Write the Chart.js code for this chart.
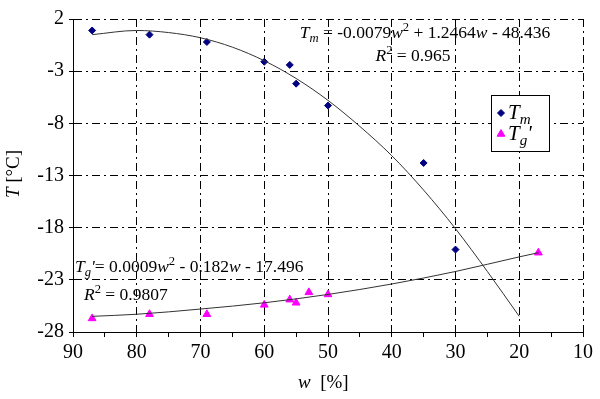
<!DOCTYPE html>
<html>
<head>
<meta charset="utf-8">
<script src="https://cdn.jsdelivr.net/npm/chart.js@4.4.1/dist/chart.umd.min.js"></script>
<style>
  html, body { margin: 0; padding: 0; background: #fff; }
  canvas { display: block; }
</style>
</head>
<body>
<canvas id="chart" width="600" height="399"></canvas>
<script>
// measured points
const tmW = [87, 78, 69, 60, 56, 55, 50, 35, 30];
const tmT = [0.9, 0.5, -0.2, -2.1, -2.4, -4.2, -6.3, -11.8, -20.1];
const tgW = [87, 78, 69, 60, 56, 55, 53, 50, 17];
const tgT = [-26.7, -26.3, -26.3, -25.4, -24.9, -25.2, -24.2, -24.4, -20.4];

// trendlines
const tmFitW = [87, 80, 75, 70, 65, 60, 55, 50, 45, 40, 35, 30, 25, 20];
const tmFitT = [0.5, 0.9, 0.7, 0.2, -0.7, -2.0, -3.7, -5.8, -8.3, -11.1, -14.4, -18.1, -22.2, -26.5];
const tgFitW = [87, 80, 70, 60, 50, 40, 30, 20, 17];
const tgFitT = [-26.5, -26.3, -25.8, -25.2, -24.4, -23.4, -22.2, -20.8, -20.4];

const xTicks = [90, 85, 80, 75, 70, 65, 60, 55, 50, 45, 40, 35, 30, 25, 20, 15, 10];
const yTicks = [2, -3, -8, -13, -18, -23, -28];

const serif = '"Liberation Serif", "Times New Roman", serif';
Chart.defaults.font.family = serif;
Chart.defaults.color = '#000';

function pairs(xs, ys) {
  return xs.map((x, i) => ({ x: x, y: ys[i] }));
}

// draw text with italic / sub / sup pieces
function drawRuns(ctx, runs, x, y, size, align) {
  const fontFor = r => (r.i ? 'italic ' : '') + ((r.sup || r.sub) ? size * 0.72 : size).toFixed(1) + 'px ' + serif;
  let total = 0;
  runs.forEach(r => { ctx.font = fontFor(r); total += ctx.measureText(r.t).width; });
  let cx = align === 'center' ? x - total / 2 : x;
  runs.forEach(r => {
    ctx.font = fontFor(r);
    const dy = r.sup ? -size * 0.4 : r.sub ? size * 0.22 : 0;
    ctx.fillText(r.t, cx, y + dy);
    cx += ctx.measureText(r.t).width;
  });
}

const tmEq = [{t: 'T', i: true}, {t: 'm', i: true, sub: true}, {t: ' = -0.0079'}, {t: 'w', i: true}, {t: '2', sup: true},
  {t: ' + 1.2464'}, {t: 'w', i: true}, {t: ' - 48.436'}];
const tmR2 = [{t: 'R', i: true}, {t: '2', sup: true}, {t: ' = 0.965'}];
const tgEq = [{t: 'T', i: true}, {t: 'g', i: true, sub: true}, {t: '\'', i: true}, {t: '= 0.0009'}, {t: 'w', i: true}, {t: '2', sup: true},
  {t: ' - 0.182'}, {t: 'w', i: true}, {t: ' - 17.496'}];
const tgR2 = [{t: 'R', i: true}, {t: '2', sup: true}, {t: ' = 0.9807'}];

const extras = {
  id: 'extras',
  afterDraw(chart) {
    const ctx = chart.ctx;
    ctx.save();
    ctx.fillStyle = '#000';
    ctx.textAlign = 'left';
    ctx.textBaseline = 'alphabetic';

    drawRuns(ctx, tmEq, 425, 38, 17.5, 'center');
    drawRuns(ctx, tmR2, 413, 61, 17.5, 'center');
    drawRuns(ctx, tgEq, 75, 272, 17.5, 'left');
    drawRuns(ctx, tgR2, 84, 300, 17.5, 'left');

    // axis titles
    drawRuns(ctx, [{t: 'w', i: true}, {t: '  [%]'}], 298, 388, 19, 'left');
    ctx.save();
    ctx.translate(19, 174);
    ctx.rotate(-Math.PI / 2);
    drawRuns(ctx, [{t: 'T', i: true}, {t: ' [\u00B0C]'}], 0, 0, 19, 'center');
    ctx.restore();

    // legend box
    ctx.fillStyle = '#fff';
    ctx.fillRect(491.5, 95.5, 58, 56);
    ctx.strokeStyle = '#000';
    ctx.lineWidth = 1;
    ctx.strokeRect(491.5, 95.5, 58, 56);

    ctx.fillStyle = '#000080';
    ctx.strokeStyle = '#000080';
    Chart.helpers.drawPoint(ctx, {pointStyle: 'rectRot', radius: 3.5, borderWidth: 1}, 501, 113);
    ctx.fillStyle = '#ff00ff';
    ctx.strokeStyle = '#ff00ff';
    Chart.helpers.drawPoint(ctx, {pointStyle: 'triangle', radius: 4.5, borderWidth: 1}, 501, 134);

    ctx.fillStyle = '#000';
    drawRuns(ctx, [{t: 'T', i: true}, {t: 'm', i: true, sub: true}], 508, 119, 21, 'left');
    drawRuns(ctx, [{t: 'T', i: true}, {t: 'g', i: true, sub: true}, {t: '\'', i: true}], 508, 140, 21, 'left');
    ctx.restore();
  }
};

new Chart(document.getElementById('chart'), {
  type: 'scatter',
  data: {
    datasets: [
      {
        label: 'Tm fit',
        data: pairs(tmFitW, tmFitT),
        showLine: true,
        borderColor: '#333',
        borderWidth: 1,
        pointRadius: 0,
        cubicInterpolationMode: 'monotone'
      },
      {
        label: 'Tg fit',
        data: pairs(tgFitW, tgFitT),
        showLine: true,
        borderColor: '#333',
        borderWidth: 1,
        pointRadius: 0,
        cubicInterpolationMode: 'monotone'
      },
      {
        label: 'Tm',
        data: pairs(tmW, tmT),
        pointStyle: 'rectRot',
        pointRadius: 3.5,
        backgroundColor: '#000080',
        borderColor: '#000080',
        borderWidth: 1
      },
      {
        label: "Tg'",
        data: pairs(tgW, tgT),
        pointStyle: 'triangle',
        pointRadius: 4.5,
        backgroundColor: '#ff00ff',
        borderColor: '#ff00ff',
        borderWidth: 1
      }
    ]
  },
  options: {
    responsive: false,
    animation: false,
    layout: { padding: { top: 19, right: 17, left: 0, bottom: 0 } },
    plugins: { legend: { display: false }, tooltip: { enabled: false } },
    scales: {
      x: {
        type: 'linear',
        reverse: true,
        min: 10,
        max: 90,
        afterBuildTicks: scale => { scale.ticks = xTicks.map(v => ({ value: v })); },
        afterFit: scale => { scale.height = 67; },
        ticks: {
          color: '#000',
          padding: 4,
          maxRotation: 0,
          autoSkip: false,
          font: { family: serif, size: 20 },
          callback: v => (v % 10 === 0 ? String(v) : '')
        },
        grid: {
          color: c => (c.tick && c.tick.value % 10 === 0 && c.tick.value !== 90 ? '#000' : 'rgba(0,0,0,0)'),
          tickColor: '#000',
          tickLength: 5,
          lineWidth: 1
        },
        border: { display: true, color: '#000', width: 1, dash: [8, 4, 2, 4] }
      },
      y: {
        type: 'linear',
        min: -28,
        max: 2,
        afterBuildTicks: scale => { scale.ticks = yTicks.map(v => ({ value: v })); },
        afterFit: scale => { scale.width = 73; },
        ticks: {
          color: '#000',
          padding: 5,
          autoSkip: false,
          font: { family: serif, size: 20 }
        },
        grid: {
          color: c => (c.tick && c.tick.value !== -28 ? '#000' : 'rgba(0,0,0,0)'),
          tickColor: '#000',
          tickLength: 4,
          lineWidth: 1
        },
        border: { display: true, color: '#000', width: 1, dash: [8, 4, 2, 4] }
      }
    }
  },
  plugins: [extras]
});
</script>
</body>
</html>
